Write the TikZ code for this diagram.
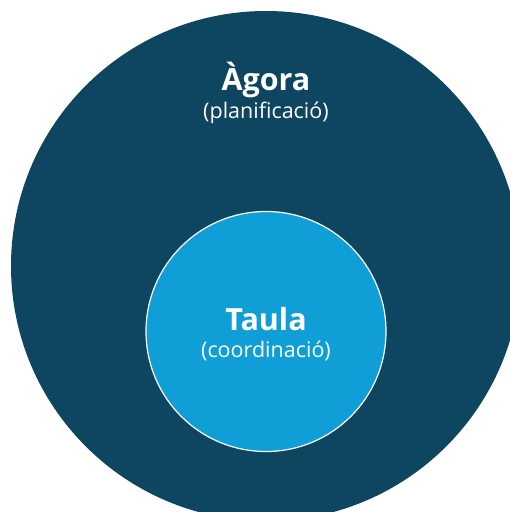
\documentclass[tikz,border=0pt]{standalone}
\usepackage{fontspec}
\setmainfont{Open Sans}
\definecolor{outerblue}{HTML}{0E4560}
\definecolor{innerblue}{HTML}{0F9ED5}
\begin{document}
\begin{tikzpicture}[x=1pt,y=-1pt,
  title/.style={text=white,font=\bfseries\fontsize{30.5}{36}\selectfont,anchor=base,inner sep=0pt},
  subtitle/.style={text=white,font=\fontsize{21.5}{26}\selectfont,anchor=base,inner sep=0pt}]
\useasboundingbox (0,0) rectangle (510,512);
\clip (0,0) rectangle (510,512);
\fill[outerblue] (266,266) circle (255);
\fill[innerblue,draw=white,line width=1.2pt] (266,331.5) circle (120);
\node[title] (agora) at (266,90) {Àgora};
\node[subtitle] (plan) at (266,118) {(planificació)};
\node[title] (taula) at (266,330) {Taula};
\node[subtitle] (coord) at (266,357) {(coordinació)};
\end{tikzpicture}
\end{document}
